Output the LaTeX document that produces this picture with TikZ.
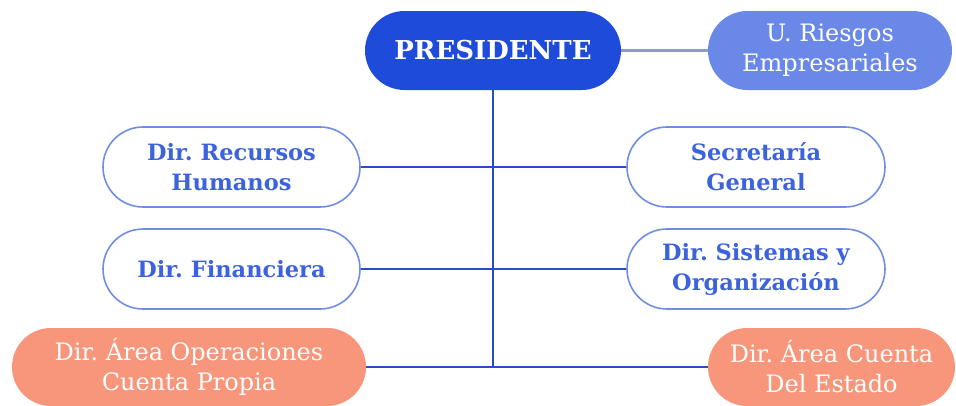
\documentclass[tikz,border=0pt]{standalone}
\usepackage{fontspec}
\setmainfont{DejaVu Serif}
\usetikzlibrary{shapes.misc}
\definecolor{presblue}{HTML}{1F4BDB}
\definecolor{lightblue}{HTML}{6A88E8}
\definecolor{outlineblue}{HTML}{6F8EE3}
\definecolor{textblue}{HTML}{3D63DC}
\definecolor{salmon}{HTML}{F8967B}
\definecolor{linkblue}{HTML}{2A4CCC}
\definecolor{greylink}{HTML}{8A9BCC}
\tikzset{
  box/.style={rounded rectangle, align=center, inner sep=0pt, font=\frenchspacing\fontsize{24}{30}\selectfont},
  presbox/.style={box, fill=presblue, text=white, font=\frenchspacing\bfseries\fontsize{26}{30}\selectfont},
  riskbox/.style={box, fill=lightblue, text=white},
  outbox/.style={box, draw=outlineblue, line width=1.6pt, fill=white, text=textblue, font=\frenchspacing\bfseries\fontsize{22.5}{30}\selectfont},
  salbox/.style={box, fill=salmon, text=white},
  link/.style={draw=linkblue, line width=2pt},
  glink/.style={draw=greylink, line width=2.5pt}
}
\begin{document}
\begin{tikzpicture}[x=1pt,y=-1pt]
\useasboundingbox (0,0) rectangle (956,405);
\node[presbox, minimum width=256pt, minimum height=79pt] (pres) at (493,50.5) {PRESIDENTE};
\node[riskbox, minimum width=244pt, minimum height=79pt] (risk) at (830,50.5) {U. Riesgos\\Empresariales};
\node[outbox, minimum width=257pt, minimum height=80pt] (rrhh) at (231.5,167) {Dir. Recursos\\Humanos};
\node[outbox, minimum width=258pt, minimum height=80pt] (sec) at (756,167) {Secretaría\\General};
\node[outbox, minimum width=257pt, minimum height=80pt] (fin) at (231.5,269) {Dir. Financiera};
\node[outbox, minimum width=258pt, minimum height=80pt] (sis) at (756,269) {Dir. Sistemas y\\Organización};
\node[salbox, minimum width=354pt, minimum height=78pt] (oper) at (189,367) {Dir. Área Operaciones\\Cuenta Propia};
\node[salbox, minimum width=247pt, minimum height=78pt] (est) at (831.5,367) {Dir. Área Cuenta\\Del Estado};
\path[glink] (pres.east) -- (risk.west);
\path[link] (pres.south) -- (pres.south |- oper.east);
\path[link] (rrhh.east) -- (sec.west);
\path[link] (fin.east) -- (sis.west);
\path[link] (oper.east) -- (est.west);
\end{tikzpicture}
\end{document}
